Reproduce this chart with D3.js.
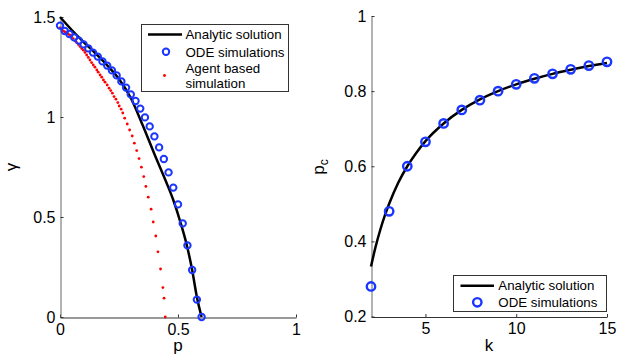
<!DOCTYPE html>
<html><head><meta charset="utf-8">
<script src="https://cdn.jsdelivr.net/npm/d3@7"></script>
<style>
body{margin:0;background:#fff;}
svg{display:block;font-family:"Liberation Sans",Arial,sans-serif;}
</style></head>
<body><svg id="c" width="623" height="359"></svg>
<script>
// ---- Left panel data ----
const odeP = [0,0.02,0.04,0.06,0.08,0.10,0.12,0.14,0.16,0.18,0.20,0.22,0.24,0.26,0.28,0.30,0.32,0.34,0.36,0.38,0.40,0.42,0.44,0.46,0.48,0.50,0.52,0.54,0.56,0.58,0.60];
const odeGamma = [1.457,1.43,1.415,1.398,1.382,1.363,1.343,1.322,1.302,1.278,1.257,1.233,1.208,1.178,1.147,1.113,1.08,1.042,0.998,0.953,0.903,0.848,0.79,0.723,0.647,0.563,0.468,0.358,0.235,0.087,0];
const analyticP = [0,0.05,0.10,0.15,0.20,0.25,0.30,0.35,0.40,0.45,0.48,0.51,0.535,0.56,0.58,0.60];
const analyticGamma = [1.5,1.435,1.375,1.318,1.258,1.19,1.095,0.96,0.815,0.675,0.585,0.475,0.37,0.235,0.1,0];
const agentP = [0,0.007,0.014,0.021,0.028,0.035,0.042,0.05,0.056,0.064,0.071,0.078,0.085,0.092,0.099,0.106,0.113,0.12,0.127,0.134,0.141,0.148,0.156,0.162,0.17,0.177,0.184,0.191,0.2,0.208,0.215,0.222,0.229,0.237,0.245,0.251,0.259,0.266,0.274,0.285,0.295,0.306,0.315,0.325,0.335,0.345,0.355,0.364,0.374,0.386,0.395,0.406,0.415,0.426,0.436,0.441,0.446];
const agentGamma = [1.445,1.437,1.43,1.425,1.42,1.415,1.409,1.402,1.392,1.38,1.372,1.362,1.352,1.342,1.334,1.323,1.31,1.298,1.285,1.272,1.26,1.249,1.235,1.224,1.21,1.199,1.185,1.174,1.16,1.144,1.132,1.119,1.102,1.089,1.072,1.055,1.039,1.02,0.994,0.965,0.935,0.905,0.869,0.832,0.792,0.749,0.702,0.653,0.599,0.539,0.475,0.405,0.326,0.24,0.147,0.094,0];
const leftXTicks = [0,0.5,1];
const leftYTicks = [0,0.5,1,1.5];
const leftLegend = ["Analytic solution","ODE simulations","Agent based","simulation"];

// ---- Right panel data ----
const kVals = [2,3,4,5,6,7,8,9,10,11,12,13,14,15];
const odePc = [0.28,0.48,0.6,0.665,0.714,0.75,0.776,0.8,0.818,0.834,0.846,0.858,0.868,0.878];
const analyticK = [2,2.25,2.5,2.75,3,3.5,4,4.5,5,6,7,8,9,10,11,12,13,14,15];
const analyticPc = [0.333,0.385,0.429,0.467,0.5,0.556,0.6,0.636,0.667,0.714,0.75,0.778,0.8,0.818,0.833,0.846,0.857,0.867,0.875];
const rightXTicks = [5,10,15];
const rightYTicks = [0.2,0.4,0.6,0.8,1];
const rightLegend = ["Analytic solution","ODE simulations"];

const svg = d3.select("#c");
const BLUE = "#1a36ff";
const FS = 16;

function styleAxis(g, vertical){
  g.select(".domain").attr("stroke", vertical ? "#666" : "#333").attr("stroke-width",1);
  g.selectAll(".tick line").attr("stroke","#333");
  g.selectAll(".tick text").attr("font-size",FS).attr("fill","#000").attr("font-family",'"Liberation Sans",Arial,sans-serif');
}

// ===== Left panel =====
const xL = d3.scaleLinear().domain([0,1]).range([60,296]);
const yL = d3.scaleLinear().domain([0,1.5]).range([317,17]);

const gxL = svg.append("g").attr("transform","translate(0,317.5)")
  .call(d3.axisBottom(xL).tickValues(leftXTicks).tickFormat(d3.format("")).tickSizeInner(-3).tickSizeOuter(0).tickPadding(6));
styleAxis(gxL,false);
const gyL = svg.append("g").attr("transform","translate(60.5,0)")
  .call(d3.axisLeft(yL).tickValues(leftYTicks).tickFormat(d3.format("")).tickSizeInner(-3).tickSizeOuter(0).tickPadding(5));
styleAxis(gyL,true);

svg.append("text").attr("x",178).attr("y",351).attr("text-anchor","middle").attr("font-size",17).text("p");
svg.append("text").attr("transform","translate(17,167) rotate(-90)").attr("text-anchor","middle").attr("font-size",17).text("γ");

const lineL = d3.line().x((d,i)=>xL(analyticP[i])).y((d,i)=>yL(analyticGamma[i])).curve(d3.curveMonotoneX);
svg.append("path").attr("d",lineL(analyticP)).attr("fill","none").attr("stroke","#000").attr("stroke-width",2.5);

svg.append("g").selectAll("circle").data(agentP).join("circle")
  .attr("cx",(d)=>xL(d)).attr("cy",(d,i)=>yL(agentGamma[i])).attr("r",1.4).attr("fill","#ff0000");

svg.append("g").selectAll("circle").data(odeP).join("circle")
  .attr("cx",(d)=>xL(d)).attr("cy",(d,i)=>yL(odeGamma[i])).attr("r",3.2)
  .attr("fill","none").attr("stroke",BLUE).attr("stroke-width",2);

// left legend
const lg = svg.append("g");
lg.append("rect").attr("x",141.5).attr("y",24.5).attr("width",147).attr("height",67).attr("fill","#fff").attr("stroke","#333").attr("stroke-width",1);
lg.append("line").attr("x1",148).attr("x2",182).attr("y1",34.5).attr("y2",34.5).attr("stroke","#000").attr("stroke-width",2.5);
lg.append("circle").attr("cx",166).attr("cy",51.7).attr("r",3.2).attr("fill","none").attr("stroke",BLUE).attr("stroke-width",2);
lg.append("circle").attr("cx",164.5).attr("cy",75.5).attr("r",1.4).attr("fill","#ff0000");
const lly = [39.3,56.7,73.3,88.3];
leftLegend.forEach((t,i)=>lg.append("text").attr("x",185.5).attr("y",lly[i]).attr("font-size",13.3).text(t));

// ===== Right panel =====
const xR = d3.scaleLinear().domain([2,15]).range([371,607]);
const yR = d3.scaleLinear().domain([0.2,1]).range([316.5,16]);

const gxR = svg.append("g").attr("transform","translate(0,317)")
  .call(d3.axisBottom(xR).tickValues(rightXTicks).tickFormat(d3.format("")).tickSizeInner(-3).tickSizeOuter(0).tickPadding(6));
styleAxis(gxR,false);
const gyR = svg.append("g").attr("transform","translate(371.5,0)")
  .call(d3.axisLeft(yR).tickValues(rightYTicks).tickFormat(d3.format("")).tickSizeInner(-3).tickSizeOuter(0).tickPadding(5));
styleAxis(gyR,true);

svg.append("text").attr("x",489).attr("y",351).attr("text-anchor","middle").attr("font-size",17).text("k");
const pc = svg.append("text").attr("transform","translate(324,167) rotate(-90)").attr("text-anchor","middle").attr("font-size",17);
pc.append("tspan").text("p");
pc.append("tspan").attr("font-size",12).attr("dy",4).text("c");

const lineR = d3.line().x((d,i)=>xR(analyticK[i])).y((d,i)=>yR(analyticPc[i])).curve(d3.curveMonotoneX);
svg.append("path").attr("d",lineR(analyticK)).attr("fill","none").attr("stroke","#000").attr("stroke-width",2.5);

svg.append("g").selectAll("circle").data(kVals).join("circle")
  .attr("cx",(d)=>xR(d)).attr("cy",(d,i)=>yR(odePc[i])).attr("r",4.2)
  .attr("fill","none").attr("stroke",BLUE).attr("stroke-width",2.4);

// right legend
const rg = svg.append("g");
rg.append("rect").attr("x",453.5).attr("y",275.5).attr("width",153).attr("height",36).attr("fill","#fff").attr("stroke","#333").attr("stroke-width",1);
rg.append("line").attr("x1",460.5).attr("x2",494).attr("y1",285.7).attr("y2",285.7).attr("stroke","#000").attr("stroke-width",2.5);
rg.append("circle").attr("cx",477.3).attr("cy",302.3).attr("r",4.2).attr("fill","none").attr("stroke",BLUE).attr("stroke-width",2.4);
const rly = [290.3,306.8];
rightLegend.forEach((t,i)=>rg.append("text").attr("x",498.3).attr("y",rly[i]).attr("font-size",13.3).text(t));
</script></body></html>
